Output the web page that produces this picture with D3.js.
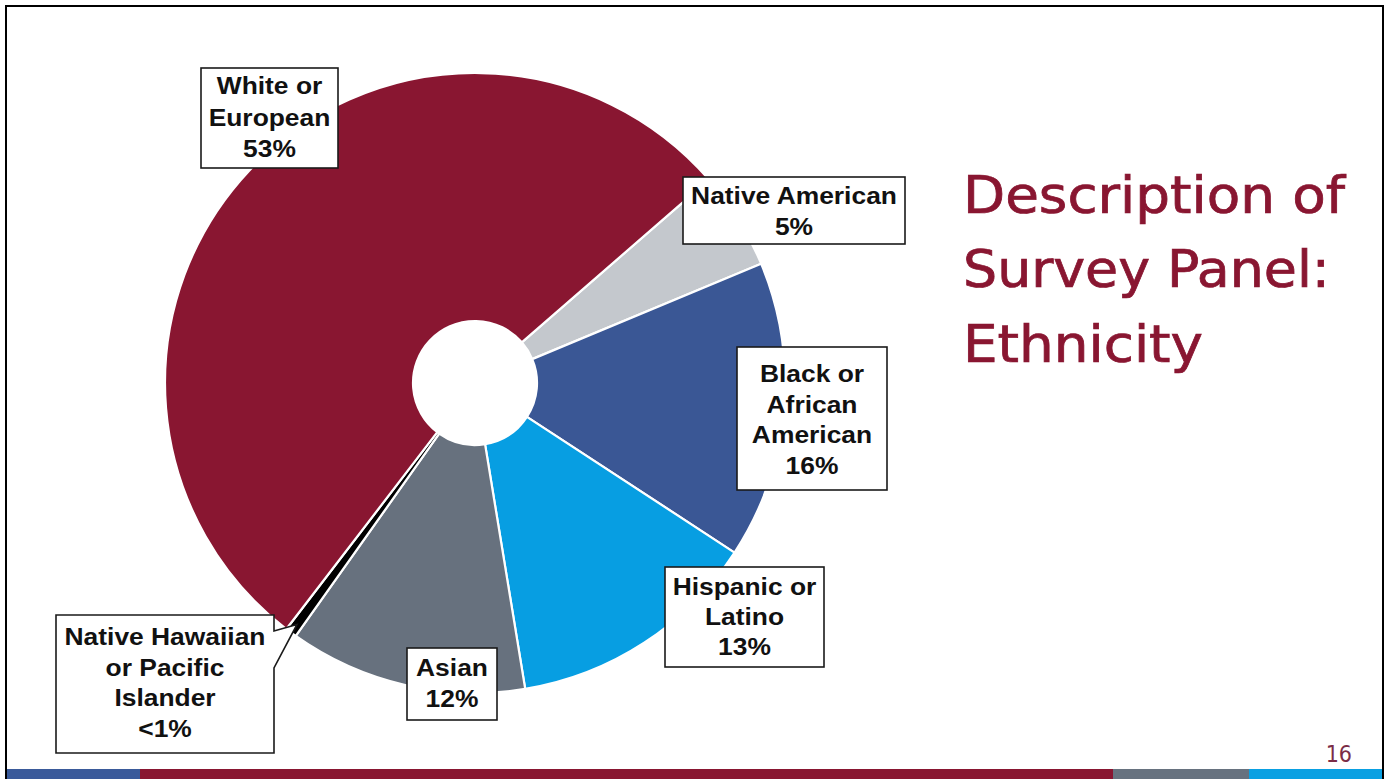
<!DOCTYPE html>
<html>
<head>
<meta charset="utf-8">
<script src="https://cdn.jsdelivr.net/npm/d3@7"></script>
<style>
  html, body { margin: 0; padding: 0; background: #ffffff; }
  svg { display: block; }
</style>
</head>
<body>
<svg id="chart" width="1388" height="779"></svg>
<script>
// ---- data ----
const categories = ["Native American", "Black or African American", "Hispanic or Latino", "Asian", "Native Hawaiian or Pacific Islander", "White or European"];
const shares = [5.1, 15.5, 13.2, 12.4, 0.6, 53.2];
const pctLabels = ["5%", "16%", "13%", "12%", "<1%", "53%"];
const labelLines = [
  ["Native American"],
  ["Black or", "African", "American"],
  ["Hispanic or", "Latino"],
  ["Asian"],
  ["Native Hawaiian", "or Pacific", "Islander"],
  ["White or", "European"]
];
const titleLines = ["Description of", "Survey Panel:", "Ethnicity"];
const pageNumber = "16";

// ---- style / layout ----
const sliceColors = ["#C4C8CD", "#3A5795", "#079EE2", "#67717E", "#000000", "#891631"];
const maroon = "#891631";
const cx = 475, cy = 383, outerR = 310, innerR = 62;
const startDeg = 49;
// label boxes: [x0, y0, x1, y1, first baseline, line step]
const boxes = [
  [683, 177, 905, 244, 204, 31],
  [737, 347, 887, 490, 382, 30.5],
  [665, 567, 824, 667, 595, 30],
  [407, 648, 497, 720, 676, 31],
  [56, 615, 274, 753, 645, 30.7],
  [201, 68, 338, 168, 94, 31.5]
];

const svg = d3.select("#chart");

// frame
svg.append("rect").attr("x", 6).attr("y", 6).attr("width", 1377).attr("height", 790)
  .attr("fill", "none").attr("stroke", "#000").attr("stroke-width", 2);

// bottom bar
const barSegs = [[7, 140, "#3A5A9A"], [140, 1113, "#891631"], [1113, 1249, "#67727F"], [1249, 1382, "#0AA0E2"]];
svg.selectAll("rect.bar").data(barSegs).enter().append("rect")
  .attr("class", "bar")
  .attr("x", d => d[0]).attr("y", 769).attr("width", d => d[1] - d[0]).attr("height", 10)
  .attr("fill", d => d[2]);

// pie
const data = categories.map((c, i) => ({ name: c, value: shares[i], i }));
const pie = d3.pie().sort(null).value(d => d.value)
  .startAngle(startDeg * Math.PI / 180)
  .endAngle(startDeg * Math.PI / 180 + 2 * Math.PI);
const arcs = pie(data);
const arc = d3.arc().innerRadius(innerR).outerRadius(outerR);

const g = svg.append("g").attr("transform", `translate(${cx},${cy})`);
g.selectAll("path.slice").data(arcs).enter().append("path")
  .attr("class", "slice")
  .attr("d", arc)
  .attr("fill", d => sliceColors[d.data.i])
  .attr("stroke", "#ffffff")
  .attr("stroke-width", 2.2)
  .attr("stroke-linejoin", "round");

// labels
const font = "'Liberation Sans', Arial, sans-serif";
arcs.forEach(a => {
  const i = a.data.i;
  const b = boxes[i];
  let shape;
  if (i === 4) {
    // callout pointing into the thin slice
    const mid = (a.startAngle + a.endAngle) / 2;
    const tx = cx + 300 * Math.sin(mid), ty = cy - 300 * Math.cos(mid);
    const p = d3.path();
    p.moveTo(b[0], b[1]); p.lineTo(b[2], b[1]); p.lineTo(b[2], 631);
    p.lineTo(tx, ty); p.lineTo(b[2], 668); p.lineTo(b[2], b[3]); p.lineTo(b[0], b[3]); p.closePath();
    shape = svg.append("path").attr("d", p.toString());
  } else {
    shape = svg.append("rect").attr("x", b[0]).attr("y", b[1]).attr("width", b[2] - b[0]).attr("height", b[3] - b[1]);
  }
  shape.attr("fill", "#fff").attr("stroke", "#1a1a1a").attr("stroke-width", 1.6);
  const lines = labelLines[i].concat([pctLabels[i]]);
  const mx = (b[0] + b[2]) / 2;
  lines.forEach((t, k) => {
    svg.append("text")
      .attr("transform", `translate(${mx},${b[4] + k * b[5]}) scale(1.1,1)`)
      .attr("text-anchor", "middle")
      .attr("font-family", font)
      .attr("font-weight", "bold")
      .attr("font-size", 24)
      .attr("fill", "#111")
      .text(t);
  });
});

// title
const titleWidths = [382, 367, 240];
const titleBase = [213, 287, 362];
titleLines.forEach((t, k) => {
  svg.append("text")
    .attr("x", 963).attr("y", titleBase[k])
    .attr("font-family", "'DejaVu Sans Condensed', 'DejaVu Sans', sans-serif")
    .attr("font-size", 52)
    .attr("fill", maroon)
    .attr("stroke", maroon)
    .attr("stroke-width", 0.7)
    .attr("textLength", titleWidths[k])
    .attr("lengthAdjust", "spacingAndGlyphs")
    .text(t);
});

// page number
svg.append("text")
  .attr("x", 1352).attr("y", 762)
  .attr("text-anchor", "end")
  .attr("font-family", "'DejaVu Sans Condensed', 'DejaVu Sans', sans-serif")
  .attr("font-size", 23)
  .attr("fill", "#7B2D47")
  .text(pageNumber);
</script>
</body>
</html>
